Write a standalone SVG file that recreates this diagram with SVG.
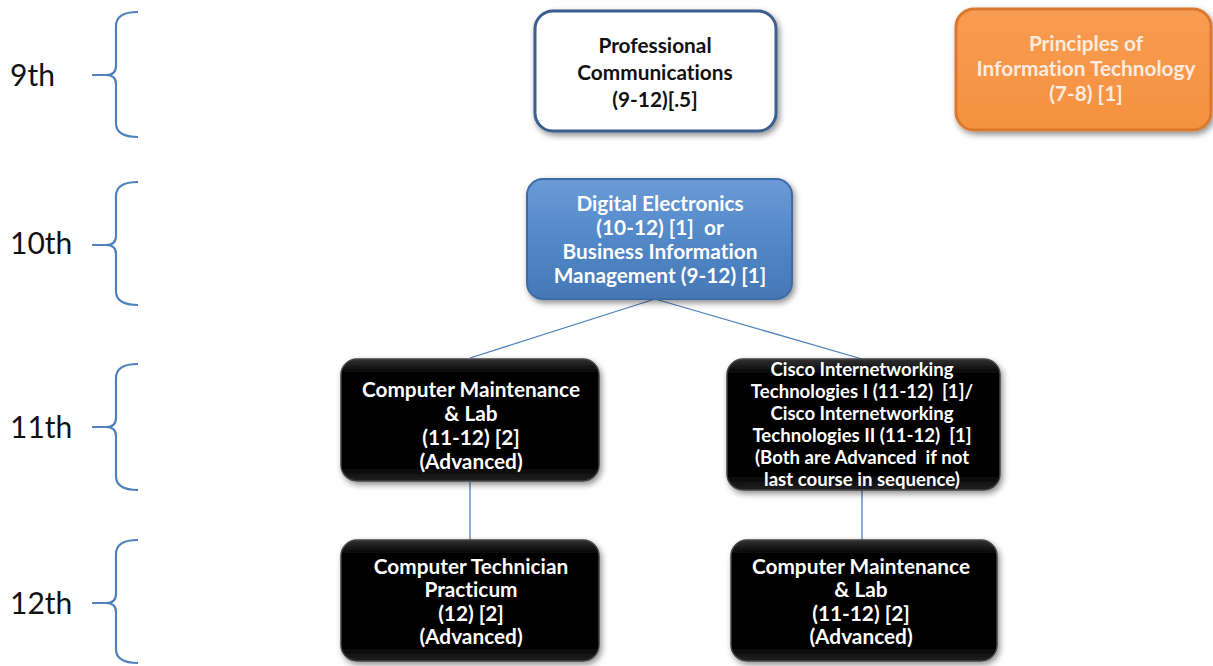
<svg xmlns="http://www.w3.org/2000/svg" width="1213" height="666" viewBox="0 0 1213 666">
<defs>
<filter id="sh" x="-10%" y="-10%" width="125%" height="130%">
<feGaussianBlur in="SourceAlpha" stdDeviation="3"/>
<feOffset dx="2" dy="3" result="b"/>
<feComponentTransfer><feFuncA type="linear" slope="0.45"/></feComponentTransfer>
<feMerge><feMergeNode/><feMergeNode in="SourceGraphic"/></feMerge>
</filter>
<linearGradient id="blue" x1="0" y1="0" x2="0" y2="1">
<stop offset="0" stop-color="#6B9BD6"/>
<stop offset="0.5" stop-color="#5288C8"/>
<stop offset="1" stop-color="#4677B5"/>
</linearGradient>
<linearGradient id="blk" x1="0" y1="0" x2="0" y2="1">
<stop offset="0" stop-color="#333"/>
<stop offset="0.12" stop-color="#000"/>
<stop offset="0.88" stop-color="#000"/>
<stop offset="1" stop-color="#222"/>
</linearGradient>
<linearGradient id="org" x1="0" y1="0" x2="0" y2="1">
<stop offset="0" stop-color="#F89C52"/>
<stop offset="1" stop-color="#F5913F"/>
</linearGradient>
</defs>
<style>
.br{fill:none;stroke:#4F81BD;stroke-width:2.2}
.lbl{font-family:Lato,"Open Sans",sans-serif;font-size:30px;fill:#111}
.t{font-family:Lato,"Open Sans",sans-serif;font-weight:bold;font-size:20.8px;text-anchor:middle;font-variant-ligatures:none}
.s{font-size:18.6px}
.w{fill:#fff}
.k{fill:#111}
.p{fill:#FDEBE0}
.con{stroke:#4F81BD;stroke-width:1.3;fill:none}
.bk{fill:url(#blk);stroke:#444;stroke-width:1.5}
</style>

<g id="grades">
<path class="br" d="M138,12 Q116,12 116,26 V66 Q116,75 106,75 H92 M106,75 Q116,75 116,84 V123 Q116,137 138,137"/>
<path class="br" d="M138,182 Q116,182 116,196 V236 Q116,245 106,245 H92 M106,245 Q116,245 116,254 V291 Q116,305 138,305"/>
<path class="br" d="M138,364 Q116,364 116,378 V418 Q116,427 106,427 H92 M106,427 Q116,427 116,436 V476 Q116,490 138,490"/>
<path class="br" d="M138,540 Q116,540 116,554 V594 Q116,603 106,603 H92 M106,603 Q116,603 116,612 V649 Q116,663 138,663"/>
<text class="lbl" x="10" y="86">9th</text>
<text class="lbl" x="10" y="254">10th</text>
<text class="lbl" x="10" y="438">11th</text>
<text class="lbl" x="10" y="614">12th</text>
</g>

<g id="connectors">
<line class="con" x1="655" y1="299" x2="470" y2="358"/>
<line class="con" x1="655" y1="299" x2="862" y2="359"/>
<line class="con" x1="470" y1="482" x2="470" y2="540"/>
<line class="con" x1="862" y1="490" x2="862" y2="541"/>
</g>

<g id="n-profcomm">
<rect x="535" y="11" width="241" height="120" rx="18" fill="#fff" stroke="#3B5F8E" stroke-width="3" filter="url(#sh)"/>
<text class="t k" x="655" y="53">Professional</text>
<text class="t k" x="655" y="80">Communications</text>
<text class="t k" x="655" y="107">(9-12)[.5]</text>
</g>

<g id="n-pit">
<rect x="956" y="9" width="255" height="121" rx="18" fill="url(#org)" stroke="#D9782E" stroke-width="3" filter="url(#sh)"/>
<text class="t p" x="1086" y="51">Principles of</text>
<text class="t p" x="1086" y="76">Information Technology</text>
<text class="t p" x="1086" y="101">(7-8) [1]</text>
</g>

<g id="n-digital">
<rect x="527" y="179" width="265" height="120" rx="16" fill="url(#blue)" stroke="#3D6DA8" stroke-width="2" filter="url(#sh)"/>
<text class="t w" x="660" y="211">Digital Electronics</text>
<text class="t w" x="660" y="235" xml:space="preserve">(10-12) [1]  or</text>
<text class="t w" x="660" y="259">Business Information</text>
<text class="t w" x="660" y="283">Management (9-12) [1]</text>
</g>

<g id="n-cml11">
<rect class="bk" x="341" y="359" width="258" height="122" rx="16" filter="url(#sh)"/>
<text class="t w" x="471" y="397">Computer Maintenance</text>
<text class="t w" x="471" y="421">&amp; Lab</text>
<text class="t w" x="471" y="445">(11-12) [2]</text>
<text class="t w" x="471" y="469">(Advanced)</text>
</g>

<g id="n-cisco">
<rect class="bk" x="727" y="359" width="273" height="131" rx="16" filter="url(#sh)"/>
<text class="t s w" x="862" y="376">Cisco Internetworking</text>
<text class="t s w" x="862" y="398" xml:space="preserve">Technologies I (11-12)  [1]/</text>
<text class="t s w" x="862" y="420">Cisco Internetworking</text>
<text class="t s w" x="862" y="442" xml:space="preserve">Technologies II (11-12)  [1]</text>
<text class="t s w" x="862" y="464" xml:space="preserve">(Both are Advanced  if not</text>
<text class="t s w" x="862" y="486">last course in sequence)</text>
</g>

<g id="n-ctp12">
<rect class="bk" x="341" y="540" width="258" height="121" rx="16" filter="url(#sh)"/>
<text class="t w" x="471" y="574">Computer Technician</text>
<text class="t w" x="471" y="597">Practicum</text>
<text class="t w" x="471" y="621">(12) [2]</text>
<text class="t w" x="471" y="644">(Advanced)</text>
</g>

<g id="n-cml12">
<rect class="bk" x="731" y="540" width="266" height="121" rx="16" filter="url(#sh)"/>
<text class="t w" x="861" y="574">Computer Maintenance</text>
<text class="t w" x="861" y="597">&amp; Lab</text>
<text class="t w" x="861" y="621">(11-12) [2]</text>
<text class="t w" x="861" y="644">(Advanced)</text>
</g>
</svg>
